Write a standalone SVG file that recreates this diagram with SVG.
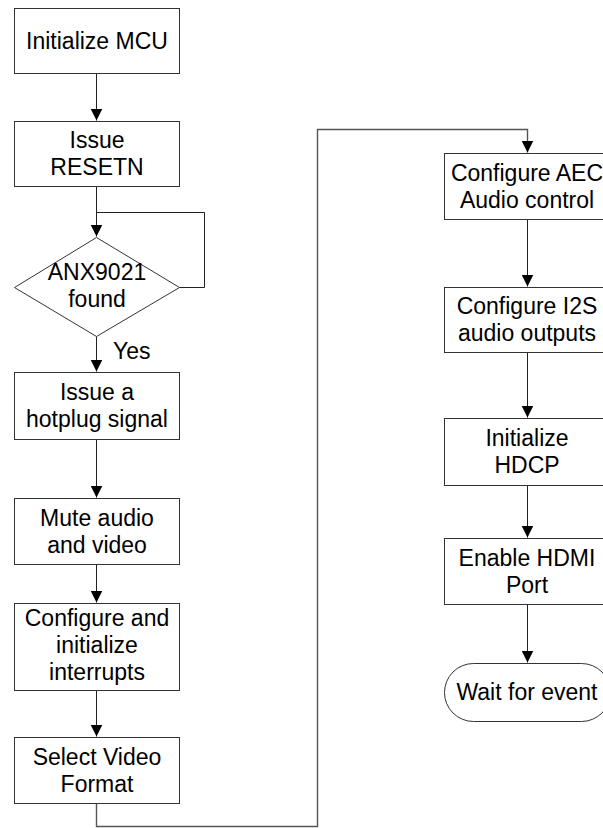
<svg xmlns="http://www.w3.org/2000/svg" width="603" height="828" viewBox="0 0 603 828">
<style>
.box{fill:#fff;stroke:#333;stroke-width:1}
.t{font-family:"Liberation Sans",Arial,sans-serif;font-size:23px;fill:#000;text-anchor:middle}
.c{fill:none;stroke:#222;stroke-width:1}
.g{fill:none;stroke:#555;stroke-width:1.4}
</style>
<defs>
<marker id="ah" markerWidth="12" markerHeight="13" refX="12" refY="6" orient="auto" markerUnits="userSpaceOnUse" viewBox="0 0 12 12">
<path d="M0,0 L12,6 L0,12 Z" fill="#000"/>
</marker>
</defs>
<rect width="603" height="828" fill="#fff"/>
<g id="connectors">
<path class="c" d="M96.5,73.5 V120.5" marker-end="url(#ah)"/>
<path class="c" d="M96.5,186.5 V236.5" marker-end="url(#ah)"/>
<path class="c" d="M179.5,287.5 H204.5 V212.5 H96.5"/>
<path class="c" d="M96.5,336.5 V371.5" marker-end="url(#ah)"/>
<path class="c" d="M96.5,439.5 V497.5" marker-end="url(#ah)"/>
<path class="c" d="M96.5,564.5 V602.5" marker-end="url(#ah)"/>
<path class="c" d="M96.5,690.5 V736.5" marker-end="url(#ah)"/>
<path class="g" d="M96.5,803.5 V826.5 H317.5 V129.5 H527.5 V152.5" marker-end="url(#ah)"/>
<path class="c" d="M527.5,219.5 V286.5" marker-end="url(#ah)"/>
<path class="c" d="M527.5,352.5 V417.5" marker-end="url(#ah)"/>
<path class="c" d="M527.5,485.5 V537.5" marker-end="url(#ah)"/>
<path class="c" d="M527.5,604.5 V662.5" marker-end="url(#ah)"/>
</g>
<g id="n1"><rect class="box" x="14.5" y="8.5" width="165" height="65"/><text class="t" x="97" y="49">Initialize MCU</text></g>
<g id="n2"><rect class="box" x="14.5" y="121.5" width="165" height="65"/><text class="t" x="97" y="148">Issue</text><text class="t" x="97" y="175">RESETN</text></g>
<g id="n3"><path class="box" d="M96.5,237.5 L179.5,287.5 L96.5,336.5 L14.5,287.5 Z"/><text class="t" x="97" y="280">ANX9021</text><text class="t" x="97" y="307">found</text></g>
<g id="lblYes"><text class="t" x="113" y="359" style="text-anchor:start">Yes</text></g>
<g id="n4"><rect class="box" x="14.5" y="372.5" width="165" height="67"/><text class="t" x="97" y="400">Issue a</text><text class="t" x="97" y="427">hotplug signal</text></g>
<g id="n5"><rect class="box" x="14.5" y="498.5" width="165" height="66"/><text class="t" x="97" y="526">Mute audio</text><text class="t" x="97" y="553">and video</text></g>
<g id="n6"><rect class="box" x="14.5" y="603.5" width="165" height="87"/><text class="t" x="97" y="626">Configure and</text><text class="t" x="97" y="653">initialize</text><text class="t" x="97" y="680">interrupts</text></g>
<g id="n7"><rect class="box" x="14.5" y="737.5" width="165" height="66"/><text class="t" x="97" y="765">Select Video</text><text class="t" x="97" y="792">Format</text></g>
<g id="n8"><rect class="box" x="444.5" y="153.5" width="166" height="66"/><text class="t" x="527" y="181">Configure AEC</text><text class="t" x="527" y="208">Audio control</text></g>
<g id="n9"><rect class="box" x="444.5" y="287.5" width="166" height="65"/><text class="t" x="527" y="314">Configure I2S</text><text class="t" x="527" y="341">audio outputs</text></g>
<g id="n10"><rect class="box" x="444.5" y="418.5" width="166" height="67"/><text class="t" x="527" y="446">Initialize</text><text class="t" x="527" y="473">HDCP</text></g>
<g id="n11"><rect class="box" x="444.5" y="538.5" width="166" height="66"/><text class="t" x="527" y="566">Enable HDMI</text><text class="t" x="527" y="593">Port</text></g>
<g id="n12"><rect class="box" x="444.5" y="663.5" width="166" height="58" rx="29" ry="29"/><text class="t" x="527" y="700">Wait for event</text></g>
</svg>
